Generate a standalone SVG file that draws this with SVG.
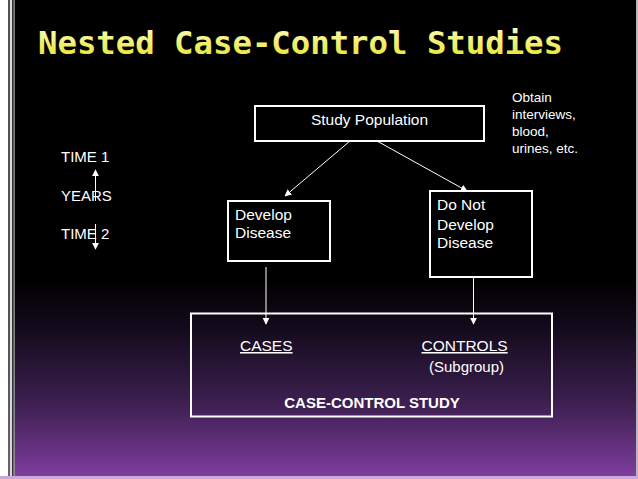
<svg xmlns="http://www.w3.org/2000/svg" width="638" height="479" viewBox="0 0 638 479">
<defs>
<linearGradient id="bg" x1="0" y1="0" x2="0" y2="479" gradientUnits="userSpaceOnUse">
<stop offset="0" stop-color="#000"/>
<stop offset="0.58" stop-color="#000"/>
<stop offset="0.68" stop-color="#120a1a"/>
<stop offset="0.84" stop-color="#3c1f50"/>
<stop offset="1" stop-color="#803ea0"/>
</linearGradient>
<linearGradient id="ttl" x1="0" y1="28" x2="0" y2="56" gradientUnits="userSpaceOnUse">
<stop offset="0" stop-color="#fbfbb0"/>
<stop offset="1" stop-color="#e9e63a"/>
</linearGradient>
<marker id="ah" viewBox="0 0 10 10" refX="9" refY="5" markerWidth="7" markerHeight="7" markerUnits="userSpaceOnUse" orient="auto">
<path d="M0,0 L10,5 L0,10 z" fill="#fff"/>
</marker>
<style>
.t{font-family:"Liberation Sans",Arial,sans-serif;fill:#fff}
.box{fill:none;stroke:#fff;stroke-width:2}
.con{stroke:#fff;stroke-width:1;fill:none;marker-end:url(#ah)}
</style>
</defs>
<rect x="0" y="0" width="638" height="479" fill="url(#bg)"/>
<rect x="0" y="0" width="8.5" height="479" fill="#fff"/>
<rect x="8.5" y="0" width="1.2" height="479" fill="#222"/>
<rect x="9.7" y="0" width="2.3" height="479" fill="#d8d8d8"/>
<rect x="12" y="0" width="1.5" height="479" fill="#333"/>
<rect x="13.5" y="0" width="1.3" height="479" fill="#999"/>
<rect x="636" y="0" width="2" height="479" fill="#b8b8b8"/>
<rect x="0" y="476" width="638" height="3" fill="#c9a9d9"/>

<text id="title" x="38" y="54" font-family="DejaVu Sans Mono, monospace" font-weight="bold" font-size="32.5" textLength="525" lengthAdjust="spacingAndGlyphs" fill="url(#ttl)">Nested Case-Control Studies</text>

<g id="timeline">
<text class="t" x="61" y="162" font-size="15">TIME 1</text>
<text class="t" x="61" y="201" font-size="15">YEARS</text>
<text class="t" x="61" y="239" font-size="15">TIME 2</text>
</g>

<g id="study-population">
<rect class="box" x="255" y="106" width="229" height="35"/>
<text class="t" x="369.5" y="125" font-size="15.5" text-anchor="middle">Study Population</text>
</g>

<g id="obtain-note">
<text class="t" font-size="13.5"><tspan x="512" y="102">Obtain</tspan><tspan x="512" y="119">interviews,</tspan><tspan x="512" y="136">blood,</tspan><tspan x="512" y="153">urines, etc.</tspan></text>
</g>

<g id="develop-disease">
<rect class="box" x="228" y="201" width="102" height="60"/>
<text class="t" font-size="15.5"><tspan x="235" y="220">Develop</tspan><tspan x="235" y="238">Disease</tspan></text>
</g>

<g id="do-not-develop">
<rect class="box" x="430" y="191" width="102" height="86"/>
<text class="t" font-size="15.5"><tspan x="437" y="210">Do Not</tspan><tspan x="437" y="230">Develop</tspan><tspan x="437" y="248">Disease</tspan></text>
</g>

<g id="case-control-study">
<rect class="box" x="191" y="313.5" width="361" height="103"/>
<text class="t" x="240" y="351" font-size="15.5" text-decoration="underline">CASES</text>
<text class="t" x="421.5" y="351" font-size="15.5" text-decoration="underline">CONTROLS</text>
<text class="t" x="429" y="372" font-size="15">(Subgroup)</text>
<text class="t" x="372" y="408" font-size="15" font-weight="bold" text-anchor="middle">CASE-CONTROL STUDY</text>
</g>

<g id="connectors">
<line class="con" x1="350" y1="141" x2="285" y2="196"/>
<line class="con" x1="377" y1="141" x2="467" y2="191"/>
<line class="con" x1="266" y1="267" x2="266" y2="324"/>
<line class="con" x1="473.5" y1="278" x2="473.5" y2="324"/>
<line class="con" x1="95.5" y1="201" x2="95.5" y2="170"/>
<line class="con" x1="95.5" y1="224" x2="95.5" y2="249"/>
</g>
</svg>
